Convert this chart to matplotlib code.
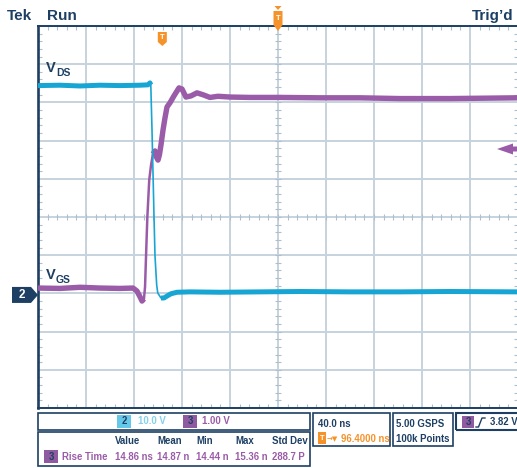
import matplotlib.pyplot as plt
import numpy as np
from matplotlib.patches import Polygon, Rectangle
from matplotlib.lines import Line2D
from matplotlib.transforms import IdentityTransform

plt.rcParams['font.family'] = ['Liberation Sans', 'DejaVu Sans']

# scope settings
ch2_scale = 10.0     # V/div
ch3_scale = 1.00     # V/div
time_scale = 40.0    # ns/div
h_delay = 96.4       # ns at screen centre
trig_level = 3.82    # V on ch3

# traces: time (ns), volts
vds_t = [-103.6, -85.3, -68.6, -51.9, -35.3, -18.6, -12.0, -10.3, -9.6, -8.6, -6.9, -6.1,
         -4.7, -3.8, -1.1, 1.4, 3.9, 7.2, 12.2, 23.1, 48.1, 81.4, 114.7, 156.4, 198.1, 239.7, 295.6]
vds_v = [54.8, 54.9, 54.7, 54.9, 54.8, 54.9, 55.0, 55.5, 55.0, 43.2, 20.2, 10.2,
         2.6, 0.5, -0.8, -0.8, -0.3, 0.3, 0.7, 0.8, 0.7, 0.8, 0.9, 0.8, 0.8, 0.9, 0.8]

vgs_t = [-103.6, -85.3, -68.6, -51.9, -35.3, -24.4, -21.1, -18.6, -16.9, -15.3, -14.4, -13.6,
         -12.5, -10.9, -9.4, -7.8, -6.1, -4.9, -3.6, -2.4, -1.1, 0.6, 2.2, 3.9, 6.4, 9.7,
         13.9, 16.4, 19.7, 23.9, 28.9, 33.9, 39.7, 46.4, 56.4, 73.1, 98.1, 131.4, 164.7,
         198.1, 239.7, 295.6]
vgs_v = [0.18, 0.17, 0.20, 0.18, 0.17, 0.18, 0.10, -0.05, -0.16, -0.10, 0.21, 0.99,
         2.02, 3.01, 3.40, 3.69, 3.77, 3.61, 3.53, 3.67, 3.93, 4.32, 4.63, 4.92, 5.03, 5.21,
         5.42, 5.39, 5.18, 5.21, 5.29, 5.24, 5.17, 5.20, 5.18, 5.17, 5.17, 5.16, 5.16,
         5.14, 5.14, 5.16]

# measurement table
meas_cols = ['Value', 'Mean', 'Min', 'Max', 'Std Dev']
meas_vals = ['14.86 ns', '14.87 n', '14.44 n', '15.36 n', '288.7 P']

NAVY = '#1d3f63'
GRID = '#c6d2dd'
TICK = '#aebfce'
CYAN = '#17a6d3'
PURPLE = '#9a5ca8'
ORANGE = '#f5922a'

W, H = 517, 468
fig = plt.figure(figsize=(W / 100, H / 100), dpi=100)
rect = [38 / W, 60 / H, 480 / W, 382 / H]
gnd_div = 2.96  # channel offset (divisions above bottom)

# graticule
ax = fig.add_axes(rect)
ax.set_xlim(0, 10)
ax.set_ylim(0, 10)
ax.set_xticks(range(11))
ax.set_yticks(range(11))
ax.set_xticks(np.arange(0, 10.01, 0.2), minor=True)
ax.set_yticks(np.arange(0, 10.01, 0.2), minor=True)
ax.grid(True, which='major', color=GRID, lw=1.4)
ax.tick_params(which='major', length=0, labelbottom=False, labelleft=False)
ax.tick_params(which='minor', direction='in', length=3, width=0.8, color=TICK,
               top=True, right=True)
for s in ['top', 'bottom']:
    ax.spines[s].set_color(NAVY)
    ax.spines[s].set_linewidth(1.4)
ax.spines['left'].set_color(NAVY)
ax.spines['left'].set_linewidth(1.9)
ax.spines['right'].set_visible(False)
cen = np.arange(0.2, 10, 0.2)
ax.plot(cen, np.full(len(cen), 5), ls='none', marker='|', ms=4, mew=0.8, color=TICK)
ax.plot(np.full(len(cen), 5), cen, ls='none', marker='_', ms=4, mew=0.8, color=TICK)

t0, t1 = h_delay - 5 * time_scale, h_delay + 5 * time_scale

# ch3 (purple)
ax3 = fig.add_axes(rect)
ax3.axis('off')
ax3.set_xlim(t0, t1)
ax3.set_ylim(-gnd_div * ch3_scale, (10 - gnd_div) * ch3_scale)
t3 = np.array(vgs_t)
v3 = np.array(vgs_v)
ax3.plot(t3, v3, color=PURPLE, lw=1.8, solid_joinstyle='round')
ax3.plot(t3, np.where((t3 <= -15.3) | (t3 >= -7.8), v3, np.nan), color=PURPLE, lw=3.9,
         solid_joinstyle='round', solid_capstyle='butt')

# ch2 (cyan)
ax2 = fig.add_axes(rect)
ax2.axis('off')
ax2.set_xlim(t0, t1)
ax2.set_ylim(-gnd_div * ch2_scale, (10 - gnd_div) * ch2_scale)
t2 = np.array(vds_t)
v2 = np.array(vds_v)
ax2.plot(t2, v2, color=CYAN, lw=1.2, solid_joinstyle='round')
ax2.plot(t2, np.where((t2 <= -9.6) | (t2 >= -1.1), v2, np.nan), color=CYAN, lw=3.6,
         solid_joinstyle='round', solid_capstyle='butt')

ID = IdentityTransform()


def poly(pts, color):
    fig.add_artist(Polygon([(x, H - y) for x, y in pts], closed=True, fc=color, ec='none',
                           transform=ID))


def box(x0, y0, x1, y1, fc='none', ec=NAVY, lw=1.2):
    fig.add_artist(Rectangle((x0, H - y1), x1 - x0, y1 - y0, fc=fc, ec=ec, lw=lw, transform=ID))


def txt(x, y, s, **kw):
    kw.setdefault('va', 'center')
    kw.setdefault('fontweight', 'bold')
    fig.text(x, H - y, s, transform=ID, **kw)


# trigger markers
trig_x = ax2.transData.transform((0, 0))[0]
cen_x = ax2.transData.transform((h_delay, 0))[0]
poly([(trig_x - 4.5, 32), (trig_x + 4.5, 32), (trig_x + 4.5, 42), (trig_x, 46),
      (trig_x - 4.5, 42)], ORANGE)
txt(trig_x, 37.5, 'T', color='white', fontsize=5.5, ha='center')
poly([(cen_x - 3.5, 6), (cen_x + 3.5, 6), (cen_x, 10)], ORANGE)
poly([(cen_x - 4.5, 11), (cen_x + 4.5, 11), (cen_x + 4.5, 25), (cen_x, 31),
      (cen_x - 4.5, 25)], ORANGE)
txt(cen_x, 18, 'T', color='white', fontsize=5.5, ha='center')

# ch2 ground marker
gy = H - ax2.transData.transform((0, 0))[1]
poly([(12, gy - 8), (31, gy - 8), (38, gy), (31, gy + 8), (12, gy + 8)], NAVY)
txt(21.5, gy, '2', color='white', fontsize=8.5, ha='center')

# ch3 trigger level arrow
ly = H - ax3.transData.transform((0, trig_level))[1]
poly([(497, ly), (513, ly - 5.5), (513, ly - 2.5), (518, ly - 2.5), (518, ly + 2.5),
      (513, ly + 2.5), (513, ly + 5.5)], PURPLE)

# header texts
txt(7, 20, 'Tek', color=NAVY, fontsize=11, va='baseline')
txt(47, 20, 'Run', color=NAVY, fontsize=11, va='baseline')
txt(513, 20, 'Trig\u2019d', color=NAVY, fontsize=11, va='baseline', ha='right')
txt(46, 72, 'V', color=NAVY, fontsize=10.5, va='baseline')
txt(56, 76, 'DS', color=NAVY, fontsize=7.5, va='baseline')
txt(46, 279, 'V', color=NAVY, fontsize=10.5, va='baseline')
txt(55.5, 283, 'GS', color=NAVY, fontsize=7.5, va='baseline')

# bottom panels
FS = 6.9
box(38, 413, 310, 430)
box(38, 432, 310, 466)
box(313, 413, 390, 446)
box(393, 413, 453, 446)
box(456, 413, 520, 430, lw=1.5)

box(117, 415, 131, 428, fc='#66c8e8', ec='none')
txt(124, 421.5, '2', color=NAVY, fontsize=FS, ha='center')
txt(138, 421.5, '%.1f V' % ch2_scale, color='#86d0ea', fontsize=FS)
box(183, 415, 197, 428, fc='#8f5aa0', ec='none')
txt(190, 421.5, '3', color=NAVY, fontsize=FS, ha='center')
txt(202, 421.5, '%.2f V' % ch3_scale, color=PURPLE, fontsize=FS)

col_x = [115, 157, 196, 235, 272]
for cx, name, val in zip(col_x, meas_cols, meas_vals):
    txt(cx, 441, name, color=NAVY, fontsize=FS)
    txt(cx, 456.5, val, color=PURPLE, fontsize=FS)
box(44, 450, 58, 463, fc='#8f5aa0', ec='none')
txt(51, 456.5, '3', color=NAVY, fontsize=FS, ha='center')
txt(62, 456.5, 'Rise Time', color=PURPLE, fontsize=FS)

txt(318, 424, '%.1f ns' % time_scale, color=NAVY, fontsize=FS)
box(318, 432, 326, 444, fc=ORANGE, ec='none')
txt(322, 438, 'T', color='white', fontsize=5.5, ha='center')
txt(327, 439, '\u2192\u25bc', color=ORANGE, fontsize=5, family=['DejaVu Sans'])
txt(341, 439, '%.4f ns' % h_delay, color=ORANGE, fontsize=FS)

txt(396, 424, '5.00 GSPS', color=NAVY, fontsize=FS)
txt(396, 439, '100k Points', color=NAVY, fontsize=FS)

box(462, 416, 474, 428, fc='#8f5aa0', ec='none')
txt(468, 422, '3', color=NAVY, fontsize=FS, ha='center')
fig.add_artist(Line2D([476, 478.5, 482, 485], [H - 427, H - 427, H - 418, H - 418],
                      color=NAVY, lw=1.0, transform=ID))
txt(490, 422, '%.2f V' % trig_level, color=NAVY, fontsize=FS)

fig.savefig('out.png', dpi=100)
